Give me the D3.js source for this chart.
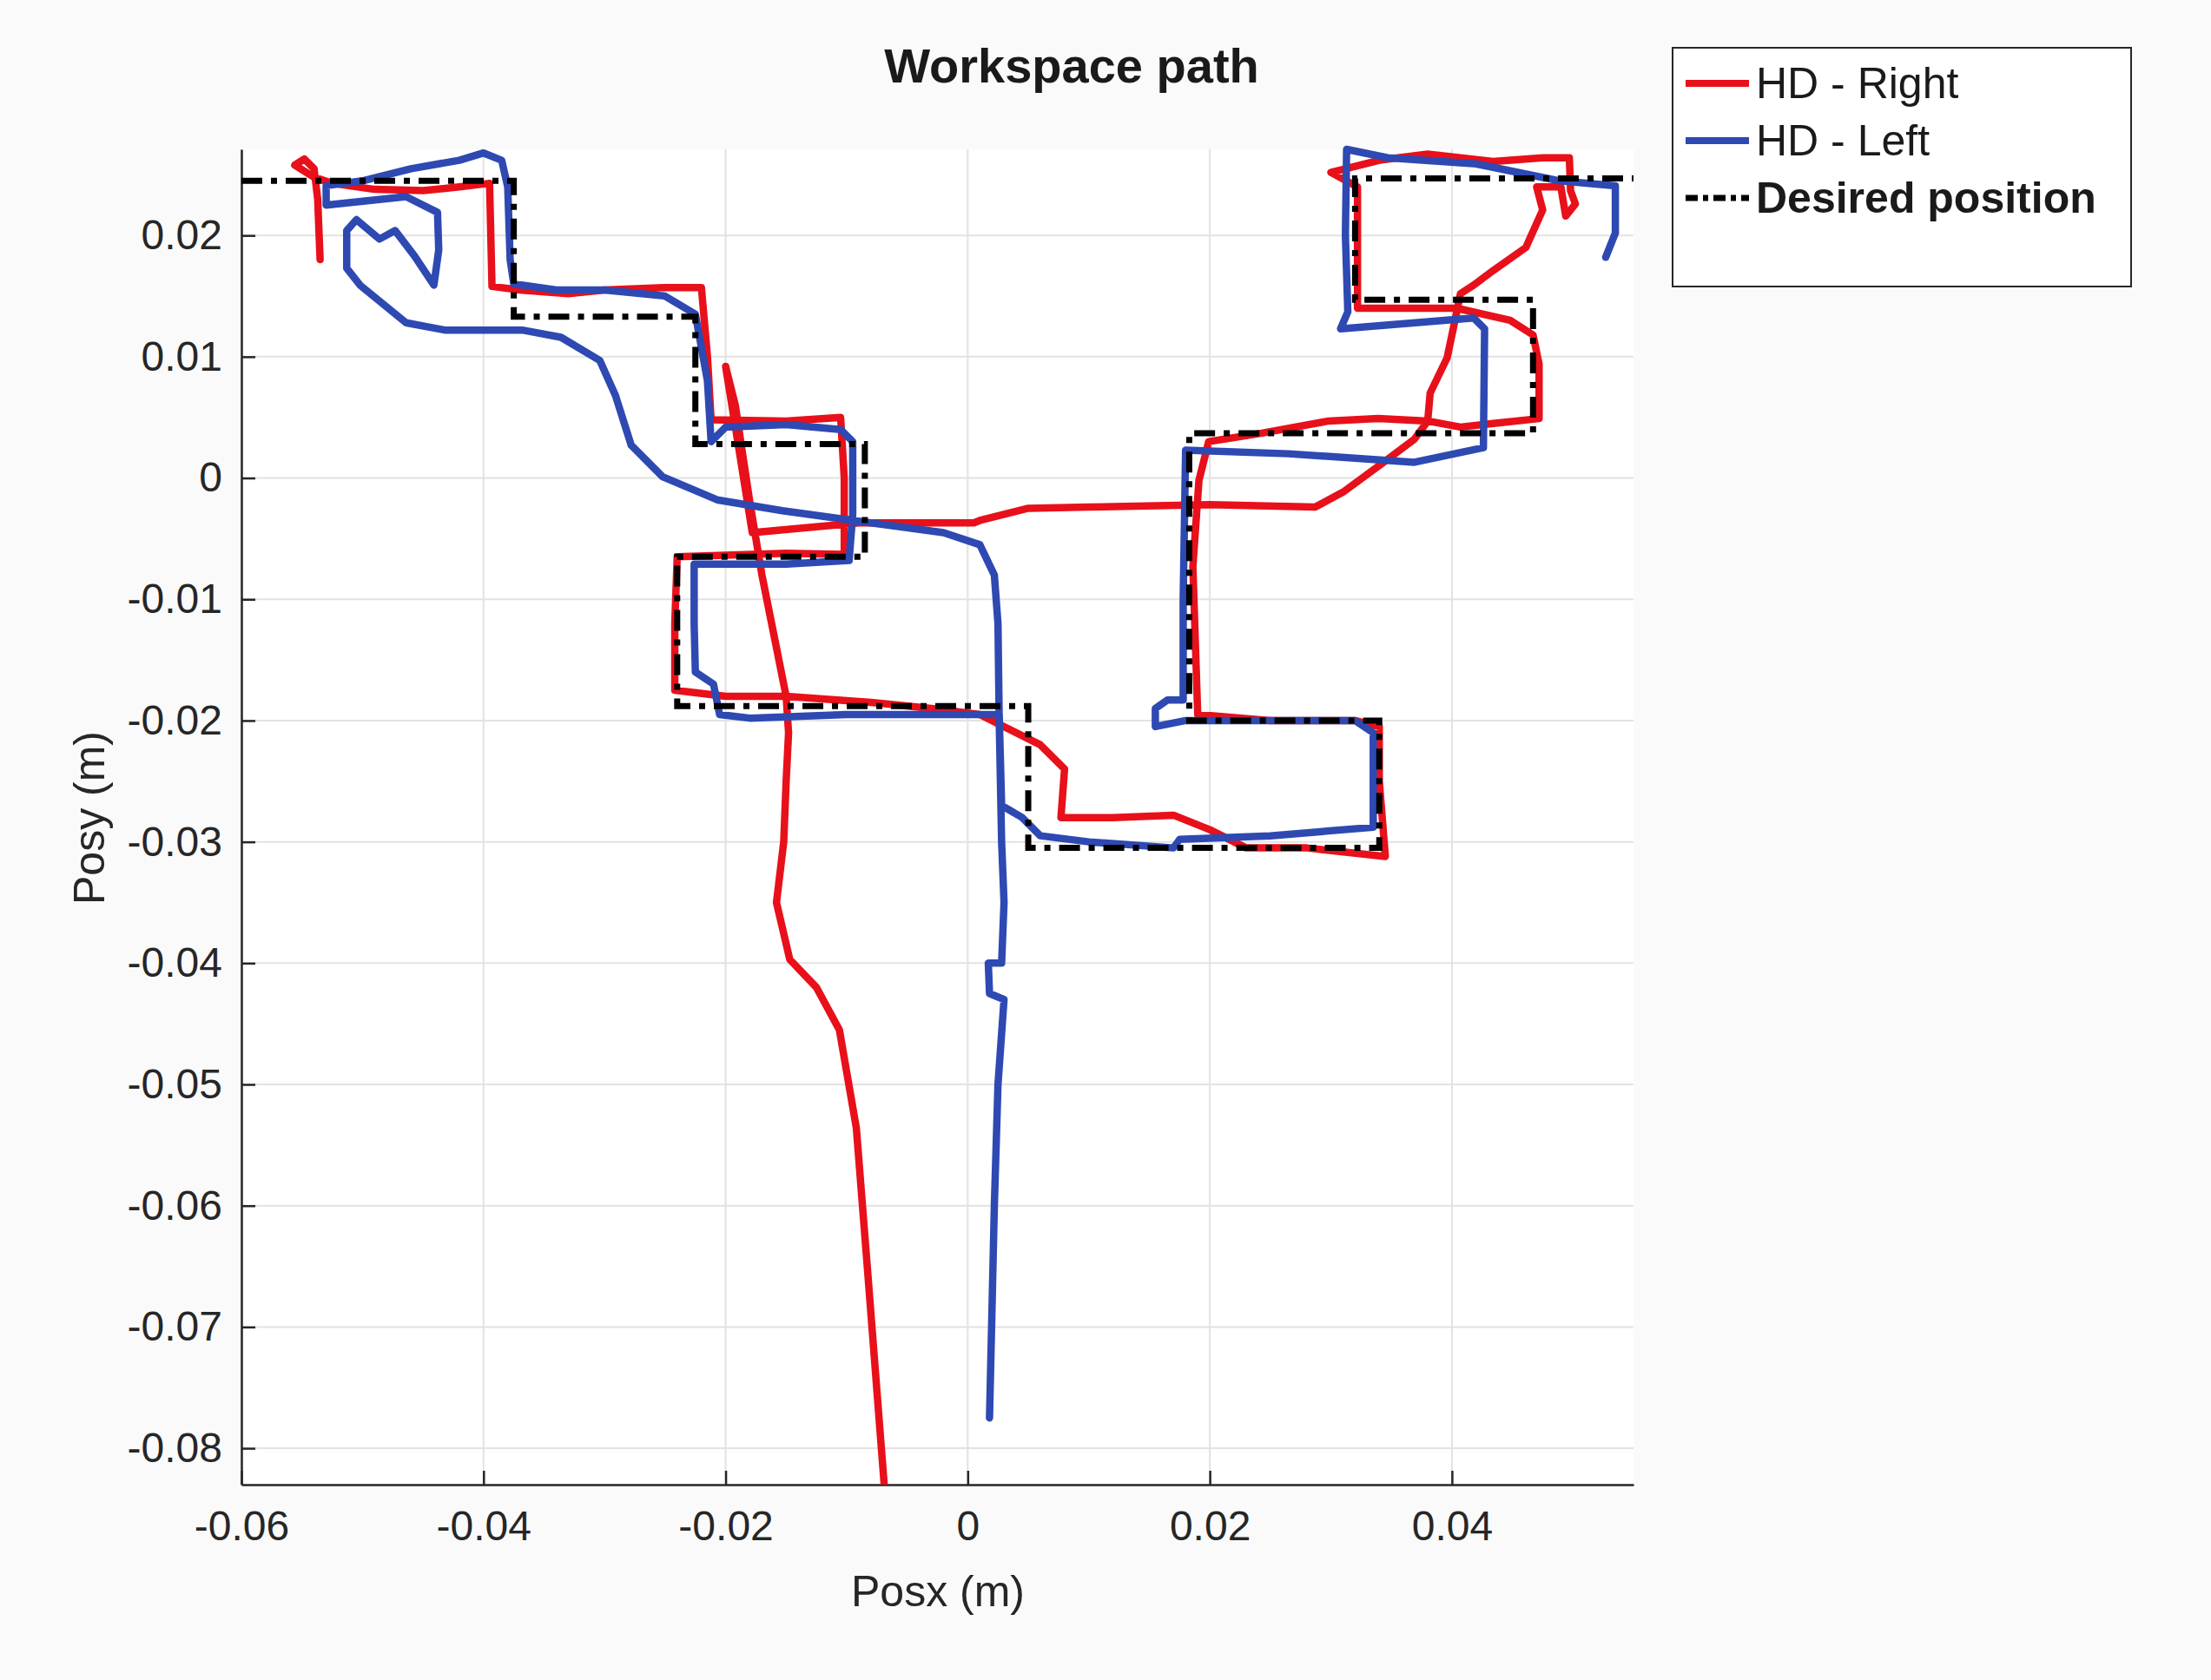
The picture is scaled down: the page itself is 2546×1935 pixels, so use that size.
<!DOCTYPE html>
<html><head><meta charset="utf-8">
<script src="https://cdn.jsdelivr.net/npm/d3@7"></script>
<style>body{margin:0;background:#fafafa;}svg{display:block;font-family:"Liberation Sans",Arial,sans-serif;}</style>
</head><body>
<script>
const xTicks=[-0.06,-0.04,-0.02,0,0.02,0.04];
const yTicks=[0.02,0.01,0,-0.01,-0.02,-0.03,-0.04,-0.05,-0.06,-0.07,-0.08];
const legendLabels=["HD - Right","HD - Left","Desired position"];
const desired=[[-0.06,0.0245],[-0.0375,0.0245],[-0.0375,0.0133],[-0.0225,0.0133],[-0.0225,0.0028],[-0.0085,0.0028],[-0.0085,-0.0065],[-0.0240,-0.0065],[-0.0240,-0.0188],[0.005,-0.0188],[0.005,-0.0305],[0.034,-0.0305],[0.034,-0.020],[0.0183,-0.020],[0.0183,0.0037],[0.0467,0.0037],[0.0467,0.0147],[0.032,0.0147],[0.032,0.0247],[0.055,0.0247]];
const hdRight=[[-0.0535,0.0180],[-0.0537,0.0230],[-0.0540,0.0255],[-0.0548,0.0263],[-0.0556,0.0258],[-0.0540,0.0248],[-0.0525,0.0243],[-0.0490,0.0238],[-0.0450,0.0237],[-0.0420,0.0240],[-0.0395,0.0243],[-0.0393,0.0158],[-0.0370,0.0155],[-0.0330,0.0152],[-0.0300,0.0155],[-0.0250,0.0157],[-0.0220,0.0157],[-0.0215,0.0100],[-0.0212,0.0048],[-0.0150,0.0047],[-0.0105,0.0050],[-0.0102,0.0000],[-0.0102,-0.0063],[-0.0150,-0.0062],[-0.0240,-0.0065],[-0.0242,-0.0120],[-0.0242,-0.0175],[-0.0200,-0.0180],[-0.0150,-0.0180],[-0.0080,-0.0185],[-0.0030,-0.0190],[0.0010,-0.0195],[0.0060,-0.0220],[0.0080,-0.0240],[0.0077,-0.0280],[0.0120,-0.0280],[0.0170,-0.0278],[0.0200,-0.0290],[0.0230,-0.0305],[0.0280,-0.0305],[0.0345,-0.0312],[0.0340,-0.0250],[0.0340,-0.0205],[0.0320,-0.0200],[0.0250,-0.0200],[0.0190,-0.0195],[0.0186,-0.0073],[0.0191,-0.0002],[0.0199,0.0030],[0.0243,0.0037],[0.0298,0.0047],[0.0339,0.0049],[0.0380,0.0047],[0.0407,0.0042],[0.0434,0.0045],[0.0472,0.0049],[0.0472,0.0094],[0.0467,0.0118],[0.0448,0.0130],[0.0404,0.0140],[0.0322,0.0140],[0.0322,0.0240],[0.0300,0.0252],[0.0340,0.0262],[0.0380,0.0267],[0.0434,0.0261],[0.0475,0.0264],[0.0497,0.0264],[0.0498,0.0237],[0.0502,0.0226],[0.0494,0.0216],[0.0490,0.0240],[0.0470,0.0240],[0.0475,0.0221],[0.0461,0.0190],[0.0434,0.0171],[0.0418,0.0159],[0.0407,0.0152],[0.0404,0.0137],[0.0396,0.0099],[0.0382,0.0070],[0.0380,0.0047],[0.0369,0.0032],[0.0341,0.0011],[0.0311,-0.0011],[0.0287,-0.0024],[0.0200,-0.0022],[0.0100,-0.0024],[0.0050,-0.0025],[0.0010,-0.0035],[0.0005,-0.0037],[-0.0090,-0.0037],[-0.0178,-0.0045],[-0.0190,0.0030],[-0.0200,0.0092],[-0.0192,0.0060],[-0.0180,-0.0020],[-0.0170,-0.0080],[-0.0160,-0.0130],[-0.0150,-0.0180],[-0.0148,-0.0210],[-0.0150,-0.0250],[-0.0152,-0.0300],[-0.0158,-0.0350],[-0.0147,-0.0397],[-0.0125,-0.0420],[-0.0106,-0.0455],[-0.0092,-0.0536],[-0.0083,-0.0650],[-0.0069,-0.0830]];
const hdLeft=[[0.0018,-0.0775],[0.0022,-0.0600],[0.0025,-0.0500],[0.0030,-0.0430],[0.0018,-0.0425],[0.0017,-0.0400],[0.0028,-0.0400],[0.0030,-0.0350],[0.0028,-0.0300],[0.0026,-0.0200],[0.0025,-0.0120],[0.0022,-0.0080],[0.0010,-0.0055],[-0.0020,-0.0045],[-0.0080,-0.0037],[-0.0153,-0.0027],[-0.0207,-0.0018],[-0.0252,0.0001],[-0.0278,0.0027],[-0.0291,0.0068],[-0.0304,0.0097],[-0.0336,0.0116],[-0.0368,0.0122],[-0.0432,0.0122],[-0.0464,0.0128],[-0.0502,0.0159],[-0.0513,0.0173],[-0.0513,0.0204],[-0.0505,0.0213],[-0.0486,0.0197],[-0.0473,0.0204],[-0.0457,0.0183],[-0.0441,0.0159],[-0.0437,0.0188],[-0.0438,0.0219],[-0.0464,0.0232],[-0.0530,0.0225],[-0.0530,0.0241],[-0.0500,0.0245],[-0.0460,0.0255],[-0.0420,0.0262],[-0.0400,0.0268],[-0.0385,0.0262],[-0.0380,0.0240],[-0.0378,0.0180],[-0.0375,0.0160],[-0.0340,0.0155],[-0.0300,0.0155],[-0.0250,0.0150],[-0.0225,0.0135],[-0.0215,0.0080],[-0.0212,0.0030],[-0.0200,0.0042],[-0.0150,0.0044],[-0.0105,0.0040],[-0.0095,0.0030],[-0.0095,-0.0030],[-0.0098,-0.0068],[-0.0150,-0.0071],[-0.0226,-0.0071],[-0.0226,-0.0120],[-0.0225,-0.0160],[-0.0210,-0.0170],[-0.0205,-0.0195],[-0.0180,-0.0198],[-0.0100,-0.0195],[0.0026,-0.0195],[0.0028,-0.0270],[0.0045,-0.0280],[0.0060,-0.0295],[0.0100,-0.0300],[0.0170,-0.0305],[0.0175,-0.0298],[0.0250,-0.0295],[0.0335,-0.0288],[0.0335,-0.0210],[0.0320,-0.0200],[0.0180,-0.0200],[0.0155,-0.0205],[0.0155,-0.0190],[0.0165,-0.0183],[0.0178,-0.0183],[0.0178,-0.0100],[0.0180,0.0023],[0.0265,0.0020],[0.0369,0.0013],[0.0426,0.0025],[0.0427,0.0123],[0.0418,0.0132],[0.0308,0.0123],[0.0314,0.0137],[0.0312,0.0200],[0.0313,0.0271],[0.0347,0.0264],[0.0420,0.0259],[0.0489,0.0245],[0.0535,0.0241],[0.0535,0.0202],[0.0527,0.0182]];

const W=2546,H=1935,L=278,R=1881,T=172,B=1710;
const svg=d3.select("body").append("svg").attr("width",W).attr("height",H);
svg.append("rect").attr("width",W).attr("height",H).attr("fill","#fafafa");
svg.append("rect").attr("x",L).attr("y",T).attr("width",R-L).attr("height",B-T).attr("fill","#ffffff");
const x=d3.scaleLinear().domain([-0.06,0.055]).range([L,R]);
const y=d3.scaleLinear().domain([-0.083,0.0271]).range([B,T]);
const g=svg.append("g");
g.selectAll(".gx").data(xTicks).join("line").attr("x1",d=>x(d)).attr("x2",d=>x(d)).attr("y1",T).attr("y2",B).attr("stroke","#e2e2e2").attr("stroke-width",2);
g.selectAll(".gy").data(yTicks).join("line").attr("y1",d=>y(d)).attr("y2",d=>y(d)).attr("x1",L).attr("x2",R).attr("stroke","#e2e2e2").attr("stroke-width",2);
const fmt=d=>d===0?"0":(d<0?"-":"")+Math.abs(d).toFixed(2);
const xa=svg.append("g").attr("transform",`translate(0,${B})`).call(d3.axisBottom(x).tickValues(xTicks).tickSize(-16).tickSizeOuter(0).tickPadding(30).tickFormat(fmt));
const ya=svg.append("g").attr("transform",`translate(${L},0)`).call(d3.axisLeft(y).tickValues(yTicks).tickSize(-16).tickSizeOuter(0).tickPadding(22).tickFormat(fmt));
[xa,ya].forEach(a=>{a.selectAll("text").attr("font-size",48).attr("fill","#262626").attr("font-family","Liberation Sans, Arial");a.selectAll("line,path").attr("stroke","#262626").attr("stroke-width",2.5);});
const line=d3.line().x(d=>x(d[0])).y(d=>y(d[1]));
svg.append("clipPath").attr("id","c").append("rect").attr("x",L).attr("y",T-30).attr("width",R-L+10).attr("height",B-T+30);
svg.append("path").datum(hdRight).attr("d",line).attr("fill","none").attr("stroke","#e8101a").attr("stroke-width",8.5).attr("stroke-linejoin","round").attr("stroke-linecap","round").attr("clip-path","url(#c)");
svg.append("path").datum(hdLeft).attr("d",line).attr("fill","none").attr("stroke","#2e49b2").attr("stroke-width",8.5).attr("stroke-linejoin","round").attr("stroke-linecap","round");
svg.append("path").datum(desired).attr("d",line).attr("fill","none").attr("stroke","#000").attr("stroke-width",7).attr("stroke-dasharray","24,10,7,10");
svg.append("text").attr("x",1234).attr("y",95).attr("text-anchor","middle").attr("font-size",56).attr("font-weight","bold").attr("fill","#1a1a1a").text("Workspace path");
svg.append("text").attr("x",1080).attr("y",1850).attr("text-anchor","middle").attr("font-size",50).attr("fill","#262626").text("Posx (m)");
svg.append("text").attr("transform","translate(120,942) rotate(-90)").attr("text-anchor","middle").attr("font-size",50).attr("fill","#262626").text("Posy (m)");
const lg=svg.append("g");
lg.append("rect").attr("x",1926).attr("y",55).attr("width",528).attr("height",275).attr("fill","#fff").attr("stroke","#262626").attr("stroke-width",2);
const lcol=["#e8101a","#2e49b2","#000"];
legendLabels.forEach((t,i)=>{
  const yy=96+i*66;
  lg.append("line").attr("x1",1941).attr("x2",2014).attr("y1",yy).attr("y2",yy).attr("stroke",lcol[i]).attr("stroke-width",i==2?7:8).attr("stroke-dasharray",i==2?"14,6,6,6":null);
  lg.append("text").attr("x",2022).attr("y",yy+17).attr("font-size",50).attr("font-weight",i==2?"bold":"normal").attr("fill","#1a1a1a").text(t);
});
</script>
</body></html>
